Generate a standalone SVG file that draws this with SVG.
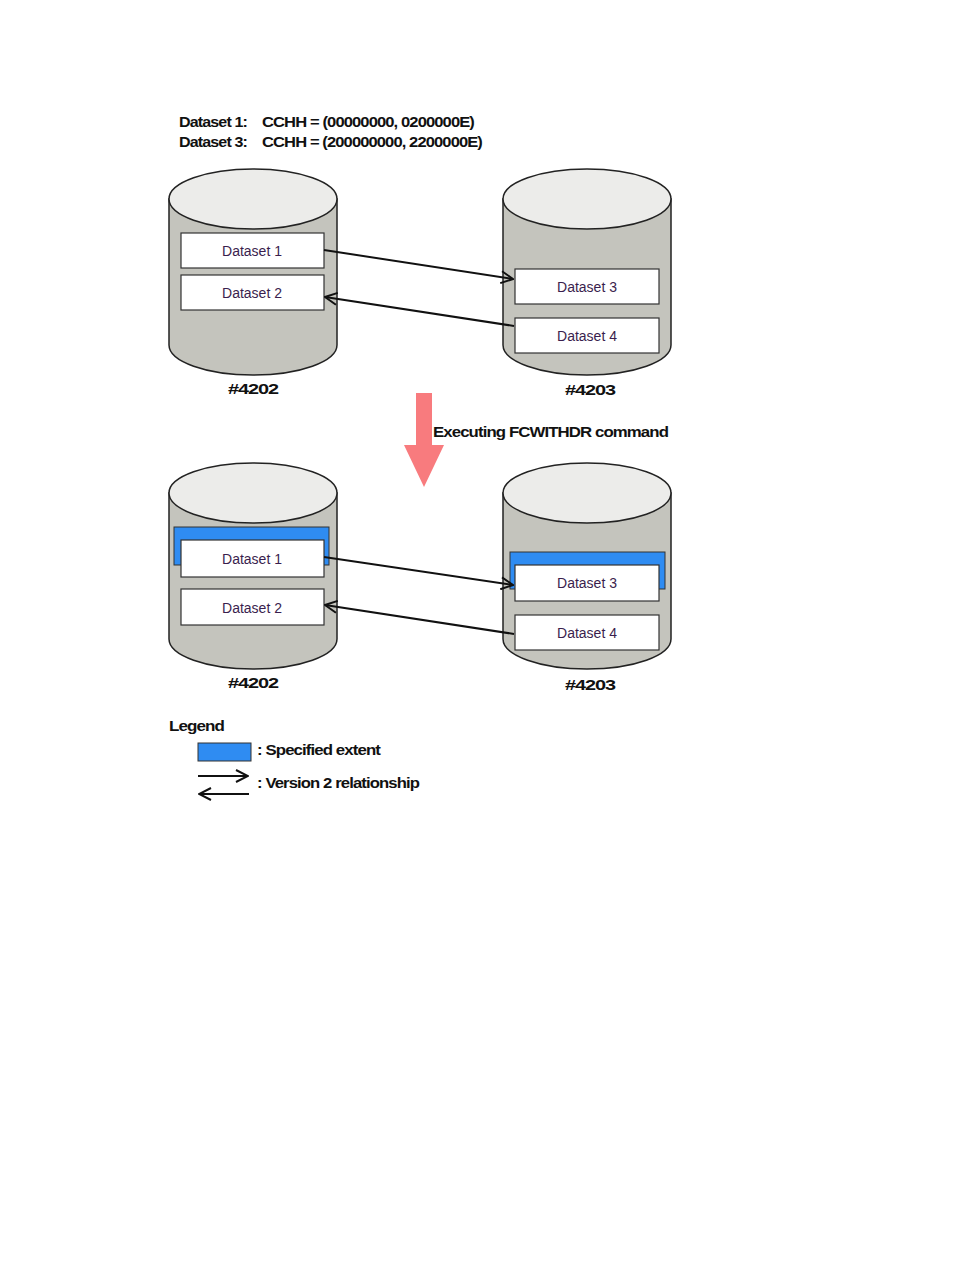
<svg xmlns="http://www.w3.org/2000/svg" width="954" height="1270" viewBox="0 0 954 1270">
<style>
.body{fill:#c4c4bd;stroke:#222;stroke-width:1.5}
.top{fill:#ececea;stroke:#222;stroke-width:1.5}
.box{fill:#fff;stroke:#333;stroke-width:1.2}
.ext{fill:#2f8cf2;stroke:#333;stroke-width:1}
.ds{font-family:"Liberation Sans",Arial,sans-serif;font-size:14px;fill:#3a1e4e;text-anchor:middle}
.bt{font-family:"Liberation Sans",Arial,sans-serif;font-weight:bold;font-size:15px;fill:#111;letter-spacing:-0.8px}
.con{stroke:#111;stroke-width:2;fill:none}
</style>
<defs>
<marker id="ah" viewBox="0 0 14 14" refX="13" refY="7" markerWidth="14" markerHeight="14" markerUnits="userSpaceOnUse" orient="auto">
<path d="M1,1 L13,7 L1,13" fill="none" stroke="#111" stroke-width="2"/>
</marker>
<symbol id="cyl" overflow="visible">
<path class="body" d="M0,31 V177 A84,30 0 0 0 168,177 V31 Z"/>
<ellipse class="top" cx="84" cy="31" rx="84" ry="30"/>
</symbol>
</defs>
<rect width="954" height="1270" fill="#fff"/>

<g id="header">
<text class="bt" x="179" y="127" textLength="68" lengthAdjust="spacingAndGlyphs">Dataset 1:</text>
<text class="bt" x="262" y="127" textLength="212" lengthAdjust="spacingAndGlyphs">CCHH = (00000000, 0200000E)</text>
<text class="bt" x="179" y="147" textLength="68" lengthAdjust="spacingAndGlyphs">Dataset 3:</text>
<text class="bt" x="262" y="147" textLength="220" lengthAdjust="spacingAndGlyphs">CCHH = (200000000, 2200000E)</text>
</g>

<g id="vol4202-before">
<use href="#cyl" x="169" y="168"/>
<text class="bt" x="228" y="394" textLength="50" lengthAdjust="spacingAndGlyphs">#4202</text>
</g>
<g id="ds1-before"><rect class="box" x="181" y="233" width="143" height="35"/><text class="ds" x="252" y="256">Dataset 1</text></g>
<g id="ds2-before"><rect class="box" x="181" y="275" width="143" height="35"/><text class="ds" x="252" y="298">Dataset 2</text></g>

<g id="vol4203-before">
<use href="#cyl" x="503" y="168"/>
<text class="bt" x="565" y="395" textLength="50" lengthAdjust="spacingAndGlyphs">#4203</text>
</g>
<g id="ds3-before"><rect class="box" x="515" y="269" width="144" height="35"/><text class="ds" x="587" y="292">Dataset 3</text></g>
<g id="ds4-before"><rect class="box" x="515" y="318" width="144" height="35"/><text class="ds" x="587" y="341">Dataset 4</text></g>

<g id="transition">
<path d="M416,393 H432 V445 H444 L424,487 L404,445 H416 Z" fill="#f87b7e"/>
<text class="bt" x="433" y="437" textLength="235" lengthAdjust="spacingAndGlyphs">Executing FCWITHDR command</text>
</g>

<g id="vol4202-after">
<use href="#cyl" x="169" y="462"/>
<text class="bt" x="228" y="688" textLength="50" lengthAdjust="spacingAndGlyphs">#4202</text>
</g>
<g id="extent-4202"><rect class="ext" x="174" y="527" width="155" height="38"/></g>
<g id="ds1-after"><rect class="box" x="181" y="540" width="143" height="37"/><text class="ds" x="252" y="564">Dataset 1</text></g>
<g id="ds2-after"><rect class="box" x="181" y="589" width="143" height="36"/><text class="ds" x="252" y="613">Dataset 2</text></g>

<g id="vol4203-after">
<use href="#cyl" x="503" y="462"/>
<text class="bt" x="565" y="690" textLength="50" lengthAdjust="spacingAndGlyphs">#4203</text>
</g>
<g id="extent-4203"><rect class="ext" x="510" y="552" width="155" height="37"/></g>
<g id="ds3-after"><rect class="box" x="515" y="565" width="144" height="36"/><text class="ds" x="587" y="588">Dataset 3</text></g>
<g id="ds4-after"><rect class="box" x="515" y="615" width="144" height="35"/><text class="ds" x="587" y="638">Dataset 4</text></g>

<g id="connectors">
<line class="con" x1="324" y1="250" x2="513" y2="279" marker-end="url(#ah)"/>
<line class="con" x1="514" y1="326" x2="325" y2="297" stroke-width="1.5" marker-end="url(#ah)"/>
<line class="con" x1="324" y1="557" x2="513" y2="585" marker-end="url(#ah)"/>
<line class="con" x1="514" y1="634" x2="325" y2="605" marker-end="url(#ah)"/>
</g>

<g id="legend">
<text class="bt" x="169" y="731" textLength="55" lengthAdjust="spacingAndGlyphs">Legend</text>
<rect class="ext" x="198" y="743" width="53" height="18"/>
<text class="bt" x="257" y="755" textLength="123" lengthAdjust="spacingAndGlyphs">: Specified extent</text>
<line class="con" x1="198" y1="776" x2="248" y2="776" marker-end="url(#ah)"/>
<line class="con" x1="249" y1="794" x2="199" y2="794" marker-end="url(#ah)"/>
<text class="bt" x="257" y="788" textLength="162" lengthAdjust="spacingAndGlyphs">: Version 2 relationship</text>
</g>
</svg>
